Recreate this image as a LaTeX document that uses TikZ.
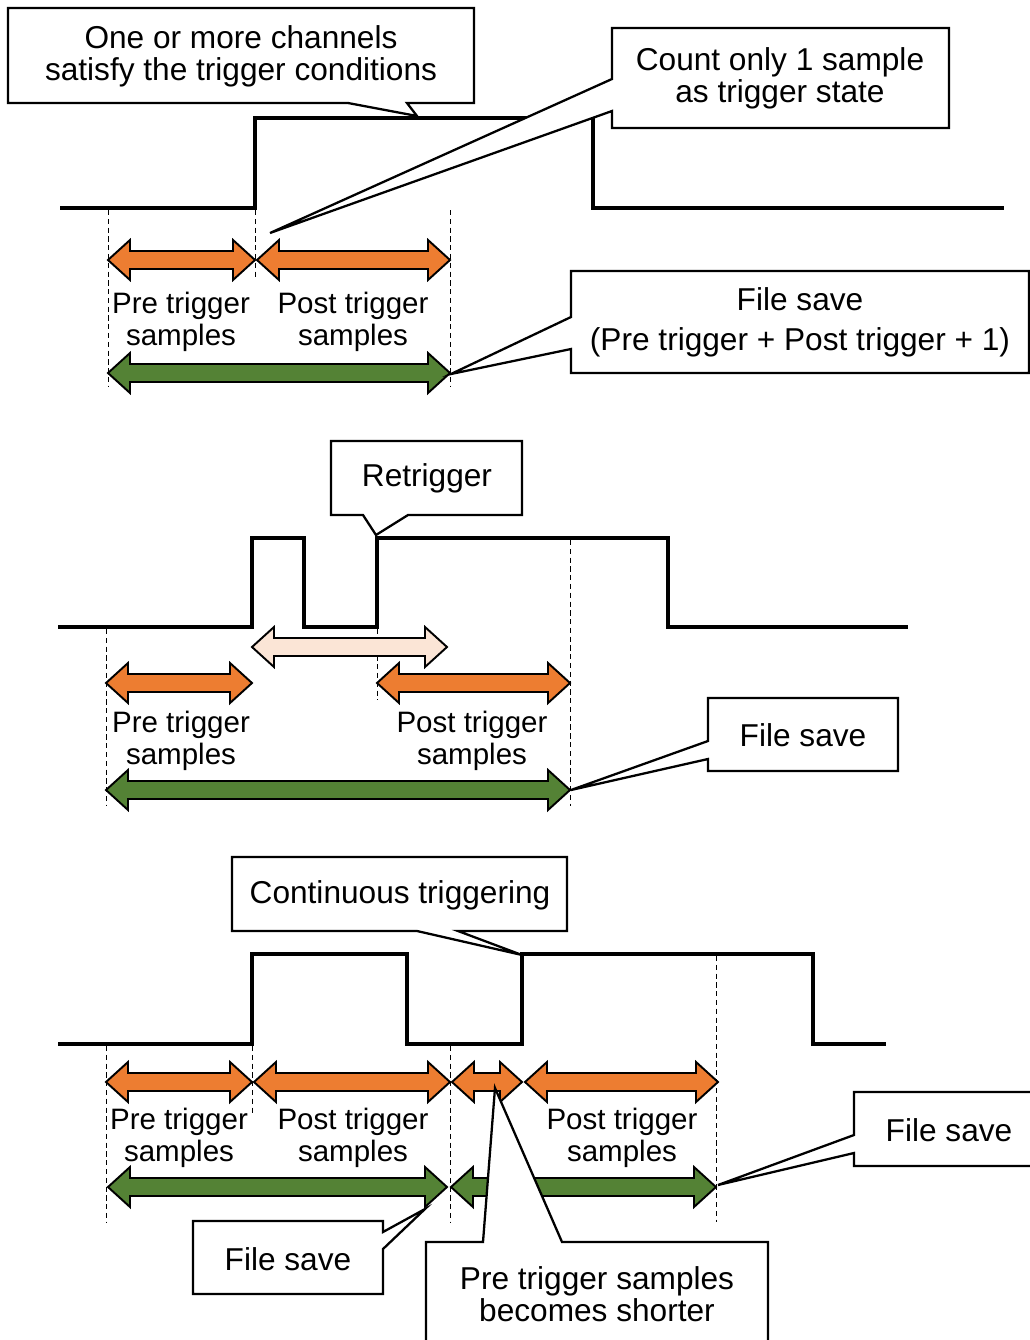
\documentclass[tikz,border=0pt]{standalone}
\usepackage{fontspec}
\setmainfont{Liberation Sans}
\usepackage{tikz}
\usetikzlibrary{positioning}

\definecolor{preorange}{HTML}{ED7D31}
\definecolor{savegreen}{HTML}{548235}
\definecolor{retrigpeach}{HTML}{FBE5D6}

% double block arrow: style, left x, right x, y
\newcommand{\blockarrow}[4]{%
	\draw[#1] (#2,#4) -- ({#2+22},{#4-20}) -- ({#2+22},{#4-9}) -- ({#3-22},{#4-9})
		-- ({#3-22},{#4-20}) -- (#3,#4) -- ({#3-22},{#4+20}) -- ({#3-22},{#4+9})
		-- ({#2+22},{#4+9}) -- ({#2+22},{#4+20}) -- cycle;}

\tikzset{
	signal/.style={draw=black,line width=2pt,line join=miter},
	guide/.style={draw=black,line width=0.5pt,dash pattern=on 3pt off 2pt},
	prearrow/.style={draw=black,line width=1.1pt,fill=preorange},
	savearrow/.style={draw=black,line width=1.1pt,fill=savegreen},
	retrigarrow/.style={draw=black,line width=1.1pt,fill=retrigpeach},
	callout/.style={draw=black,line width=1.3pt,fill=white,line join=miter},
	caption/.style={font=\fontsize{18}{18.2}\selectfont,align=center,inner sep=0pt},
	rangelabel/.style={font=\fontsize{16.8}{18.2}\selectfont,align=center,inner sep=0pt}
}

\begin{document}
\begin{tikzpicture}[x=0.02cm,y=-0.02cm]
	\useasboundingbox (0,0) rectangle (1030,1340);
	\clip (0,0) rectangle (1030,1340);

	% signals
	\draw[signal] (60,208) -- (255,208) -- (255,118) -- (593,118) -- (593,208) -- (1004,208);
	\draw[signal] (58,627) -- (252,627) -- (252,538) -- (304,538) -- (304,627) -- (377,627)
		-- (377,538) -- (668,538) -- (668,627) -- (908,627);
	\draw[signal] (58,1044) -- (252,1044) -- (252,954) -- (407,954) -- (407,1044) -- (522,1044)
		-- (522,954) -- (813,954) -- (813,1044) -- (886,1044);

	% sample limits
	\begin{scope}[every path/.style={guide}]
		\draw (108,210) -- (108,386);
		\draw (255,210) -- (255,280);
		\draw (450,210) -- (450,386);
		\draw (106,629) -- (106,806);
		\draw (377,629) -- (377,700);
		\draw (570,540) -- (570,806);
		\draw (106,1046) -- (106,1222);
		\draw (252,1046) -- (252,1115);
		\draw (450,1046) -- (450,1222);
		\draw (716,956) -- (716,1222);
	\end{scope}

	% sample ranges
	\blockarrow{prearrow}{108}{255}{260}
	\blockarrow{prearrow}{257}{450}{260}
	\blockarrow{savearrow}{108}{450}{373}

	\blockarrow{retrigarrow}{252}{447}{647}
	\blockarrow{prearrow}{106}{252}{683}
	\blockarrow{prearrow}{377}{570}{683}
	\blockarrow{savearrow}{106}{570}{790}

	\blockarrow{prearrow}{106}{252}{1082}
	\blockarrow{prearrow}{254}{450}{1082}
	\blockarrow{prearrow}{452}{522}{1082}
	\blockarrow{prearrow}{525}{718}{1082}
	\blockarrow{savearrow}{108}{447}{1187}
	\blockarrow{savearrow}{451}{716}{1187}

	% callout tips
	\coordinate (trigtip) at (417,116);
	\coordinate (counttip) at (270,233);
	\coordinate (save1tip) at (451,374);
	\coordinate (retrigtip) at (376,535);
	\coordinate (save2tip) at (571,790);
	\coordinate (conttip) at (522,955);
	\coordinate (save3tip) at (425,1209);
	\coordinate (save4tip) at (718,1185);
	\coordinate (shorttip) at (495,1088);

	% callouts
	\draw[callout] (8,8) -- (474,8) -- (474,103) -- (407,103) -- (trigtip) -- (348,103) -- (8,103) -- cycle;
	\draw[callout] (612,28) -- (949,28) -- (949,128) -- (612,128) -- (612,111) -- (counttip) -- (612,79) -- cycle;
	\draw[callout] (571,271) -- (1029,271) -- (1029,373) -- (571,373) -- (571,349) -- (save1tip) -- (571,317) -- cycle;
	\draw[callout] (331,441) -- (522,441) -- (522,515) -- (408,515) -- (retrigtip) -- (363,515) -- (331,515) -- cycle;
	\draw[callout] (708,698) -- (898,698) -- (898,771) -- (708,771) -- (708,759) -- (save2tip) -- (708,741) -- cycle;
	\draw[callout] (232,857) -- (567,857) -- (567,931) -- (458,931) -- (conttip) -- (417,931) -- (232,931) -- cycle;
	\draw[callout] (193,1221) -- (383,1221) -- (383,1232) -- (save3tip) -- (383,1249) -- (383,1294) -- (193,1294) -- cycle;
	\draw[callout] (854,1092) -- (1044,1092) -- (1044,1166) -- (854,1166) -- (854,1153) -- (save4tip) -- (854,1135) -- cycle;
	\draw[callout] (426,1242) -- (483,1242) -- (shorttip) -- (562,1242) -- (768,1242) -- (768,1352) -- (426,1352) -- cycle;

	% texts
	\begin{scope}[every node/.style={caption}]
		\node (trig) at (241,56) {One or more channels\\satisfy the trigger conditions};
		\node (count) at (780,78) {Count only 1 sample\\as trigger state};
		\node (save1) at (800,322) {File save\\[4.5pt](Pre trigger + Post trigger + 1)};
		\node (retrig) at (427,478) {Retrigger};
		\node (save2) at (803,735) {File save};
		\node (cont) at (400,895) {Continuous triggering};
		\node (save3) at (288,1259) {File save};
		\node (save4) at (949,1130) {File save};
		\node (short) at (597,1294) {Pre trigger samples\\becomes shorter};
	\end{scope}
	\begin{scope}[every node/.style={rangelabel}]
		\node (pre1) at (181,322) {Pre trigger\\samples};
		\node (post1) at (353,322) {Post trigger\\samples};
		\node (pre2) at (181,741) {Pre trigger\\samples};
		\node (post2) at (472,741) {Post trigger\\samples};
		\node (pre3) at (179,1138) {Pre trigger\\samples};
		\node (post3) at (353,1138) {Post trigger\\samples};
		\node (post4) at (622,1138) {Post trigger\\samples};
	\end{scope}
\end{tikzpicture}
\end{document}
